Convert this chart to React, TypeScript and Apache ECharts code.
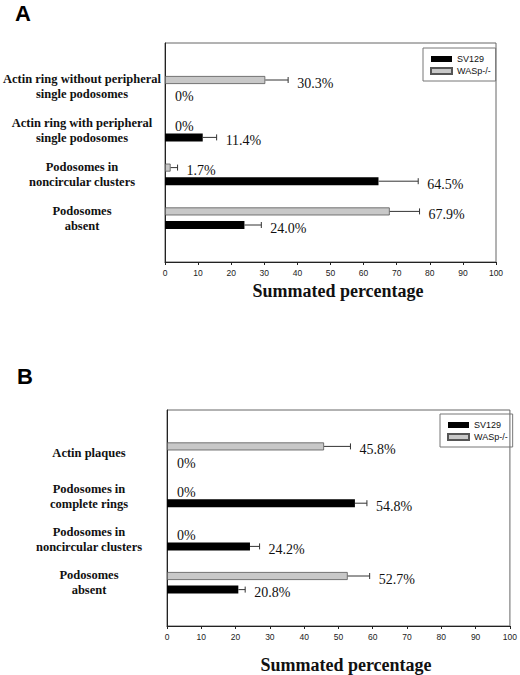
import { useEffect, useRef } from 'react';
import * as echarts from 'echarts';

// Panel A
const categoriesA = [
  'Actin ring without peripheral\nsingle podosomes',
  'Actin ring with peripheral\nsingle podosomes',
  'Podosomes in\nnoncircular clusters',
  'Podosomes\nabsent'
];
const sv129A = [0, 11.4, 64.5, 24.0];
const sv129ErrA = [0, 4.2, 12.0, 5.1];
const waspA = [30.3, 0, 1.7, 67.9];
const waspErrA = [6.9, 0, 2.1, 9.0];

// Panel B
const categoriesB = [
  'Actin plaques',
  'Podosomes in\ncomplete rings',
  'Podosomes in\nnoncircular clusters',
  'Podosomes\nabsent'
];
const sv129B = [0, 54.8, 24.2, 20.8];
const sv129ErrB = [0, 3.5, 2.8, 2.0];
const waspB = [45.8, 0, 0, 52.7];
const waspErrB = [7.7, 0, 0, 6.4];

const xTicks = { min: 0, max: 100, interval: 10 };

const BAR_W = 8;
const BAR_GAP = 0.7;
const HALF = (BAR_W * (1 + BAR_GAP)) / 2;

const SERIF = '"Liberation Serif", "Times New Roman", serif';
const SANS = '"Liberation Sans", Arial, sans-serif';

// empty slots at both ends so the four groups sit one band away from the frame
const padCats = (c: string[]) => ['', ...c, ''];
const padVals = (v: number[]) => ['-', ...v.map((d) => (d === 0 ? '-' : d)), '-'];
const fmt = (v: number) => (v === 0 ? '0%' : `${v.toFixed(1)}%`);

const errorItem = (offset: number) => (_params: any, api: any) => {
  const cat = api.value(0);
  const val = api.value(1);
  const err = api.value(2);
  const base = api.coord([val, cat]);
  const end = api.coord([val + err, cat]);
  const y = base[1] + offset;
  const children: any[] = [];
  if (err > 0) {
    children.push({
      type: 'line',
      shape: { x1: base[0], y1: y, x2: end[0], y2: y },
      style: { stroke: '#333', lineWidth: 1 }
    });
    children.push({
      type: 'line',
      shape: { x1: end[0], y1: y - 3, x2: end[0], y2: y + 3 },
      style: { stroke: '#333', lineWidth: 1 }
    });
  }
  children.push({
    type: 'text',
    x: end[0] + (err > 0 ? 9 : 10),
    y: y + 3,
    style: {
      text: fmt(val),
      fontFamily: SERIF,
      fontSize: 14,
      fill: '#111',
      verticalAlign: 'middle',
      align: 'left'
    }
  });
  return { type: 'group', children };
};

const errData = (vals: number[], errs: number[]) =>
  vals.map((v, i) => [i + 1, v, errs[i]]);

const makeAxes = (gridIndex: number, cats: string[], labelMargin: number, nameGap: number) => ({
  x: {
    type: 'value' as const,
    gridIndex,
    ...xTicks,
    name: 'Summated percentage',
    nameLocation: 'middle' as const,
    nameGap,
    nameTextStyle: {
      fontFamily: SERIF,
      fontWeight: 'bold' as const,
      fontSize: 18,
      color: '#111',
      padding: [0, 0, 0, 15]
    },
    axisLine: { show: true, lineStyle: { color: '#222', width: 1 } },
    axisTick: { show: true, length: 3, lineStyle: { color: '#222' } },
    axisLabel: { fontFamily: SANS, fontSize: 8.5, color: '#222', margin: 6 },
    splitLine: { show: false }
  },
  y: {
    type: 'category' as const,
    gridIndex,
    data: padCats(cats),
    inverse: true,
    boundaryGap: false,
    axisLine: { show: true, lineStyle: { color: '#222', width: 1 } },
    axisTick: { show: false },
    axisLabel: {
      interval: 0,
      align: 'center' as const,
      margin: labelMargin,
      fontFamily: SERIF,
      fontWeight: 'bold' as const,
      fontSize: 12.5,
      lineHeight: 15,
      color: '#111'
    },
    splitLine: { show: false }
  }
});

const waspStyle = { color: '#c8c8c8', borderColor: '#555', borderWidth: 0.8 };
const svStyle = { color: '#000' };

const makeSeries = (
  idx: number,
  wasp: number[],
  waspErr: number[],
  sv: number[],
  svErr: number[]
) => [
  {
    name: 'WASp-/-',
    type: 'bar' as const,
    xAxisIndex: idx,
    yAxisIndex: idx,
    data: padVals(wasp),
    barWidth: BAR_W,
    barGap: `${BAR_GAP * 100}%`,
    itemStyle: waspStyle
  },
  {
    name: 'SV129',
    type: 'bar' as const,
    xAxisIndex: idx,
    yAxisIndex: idx,
    data: padVals(sv),
    barWidth: BAR_W,
    barGap: `${BAR_GAP * 100}%`,
    itemStyle: svStyle
  },
  {
    type: 'custom' as const,
    xAxisIndex: idx,
    yAxisIndex: idx,
    encode: { x: 1, y: 0 },
    data: errData(wasp, waspErr),
    renderItem: errorItem(-HALF),
    z: 5
  },
  {
    type: 'custom' as const,
    xAxisIndex: idx,
    yAxisIndex: idx,
    encode: { x: 1, y: 0 },
    data: errData(sv, svErr),
    renderItem: errorItem(HALF),
    z: 5
  }
];

const legendBase = {
  orient: 'vertical' as const,
  data: ['SV129', 'WASp-/-'],
  icon: 'rect',
  itemWidth: 21,
  itemHeight: 6,
  itemGap: 2,
  borderColor: '#777',
  borderWidth: 1,
  padding: [6, 5, 5, 7],
  selectedMode: false,
  textStyle: { fontFamily: SANS, fontSize: 9, color: '#111', lineHeight: 10 }
};

const App = () => {
  const chartRef = useRef<HTMLDivElement>(null);

  useEffect(() => {
    if (!chartRef.current) return;
    document.body.style.margin = '0';
    const chart = echarts.init(chartRef.current, undefined, { renderer: 'svg' });

    const a = makeAxes(0, categoriesA, 83, 20);
    const b = makeAxes(1, categoriesB, 78, 30);

    chart.setOption({
      animation: false,
      backgroundColor: '#fff',
      grid: [
        { left: 163, top: 43, width: 333, height: 219, show: true, borderColor: '#666', borderWidth: 1 },
        { left: 167, top: 410, width: 345, height: 223, show: true, borderColor: '#666', borderWidth: 1 }
      ],
      xAxis: [a.x, b.x],
      yAxis: [a.y, b.y],
      legend: [
        { ...legendBase, left: 423, top: 48 },
        { ...legendBase, left: 440, top: 414 }
      ],
      graphic: [
        {
          type: 'text',
          left: 15,
          top: 2,
          style: { text: 'A', fontFamily: SANS, fontWeight: 'bold', fontSize: 22, fill: '#000' }
        },
        {
          type: 'text',
          left: 17,
          top: 365,
          style: { text: 'B', fontFamily: SANS, fontWeight: 'bold', fontSize: 22, fill: '#000' }
        }
      ],
      series: [
        ...makeSeries(0, waspA, waspErrA, sv129A, sv129ErrA),
        ...makeSeries(1, waspB, waspErrB, sv129B, sv129ErrB)
      ]
    });

    return () => {
      chart.dispose();
    };
  }, []);

  return <div ref={chartRef} style={{ width: '520px', height: '675px' }} />;
};

export default App;
